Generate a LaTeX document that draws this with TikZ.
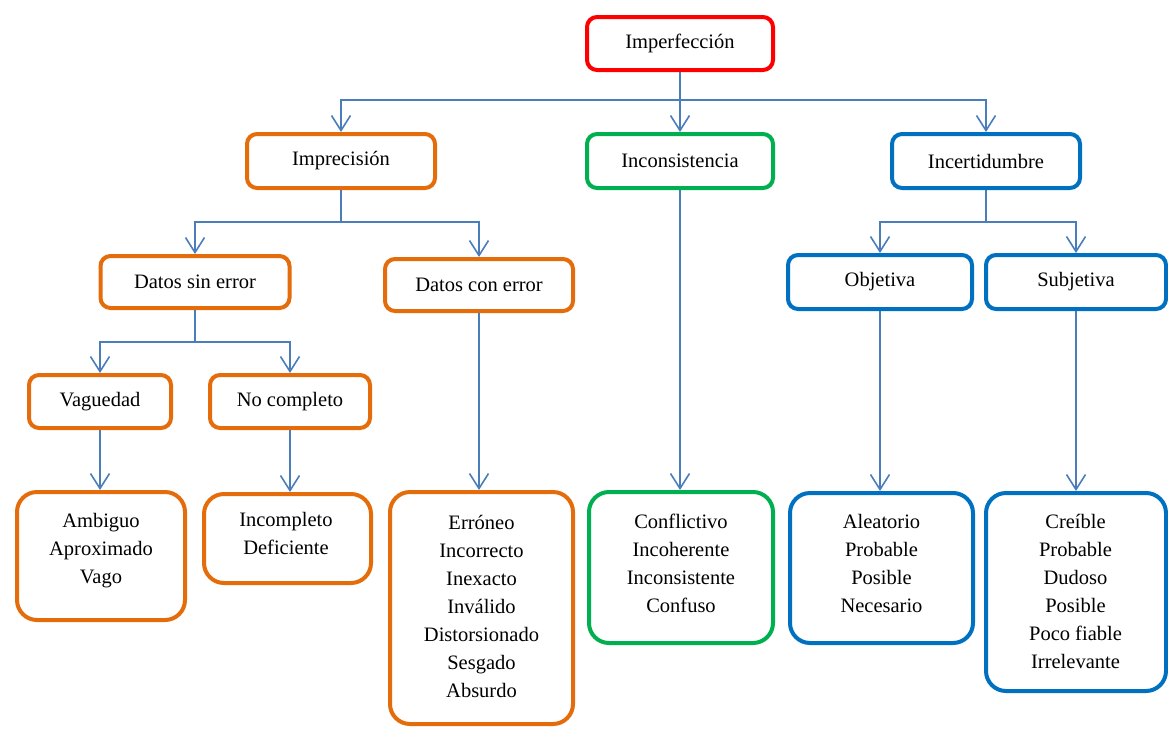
\documentclass[tikz,border=0pt]{standalone}
\usepackage{fontspec}
\setmainfont{Liberation Serif}
\usetikzlibrary{arrows.meta}
\definecolor{cred}{HTML}{FF0000}
\definecolor{corange}{HTML}{E46C0A}
\definecolor{cgreen}{HTML}{00B050}
\definecolor{cblue}{HTML}{0070C0}
\definecolor{clink}{HTML}{4A7EBB}

\begin{document}
\begin{tikzpicture}[x=1pt,y=-1pt,
  box/.style={draw, line width=4pt, rounded corners=10pt, fill=white,
    inner sep=0pt, font=\fontsize{20.5}{28}\selectfont},
  bigbox/.style={box, rounded corners=20pt},
  words/.style={align=center, inner sep=0pt, anchor=north,
    font=\fontsize{20.5}{28}\selectfont},
  link/.style={draw=clink, line width=1.6pt},
  arr/.style={link, -{Straight Barb[length=15pt,width=19pt]}},
]
\useasboundingbox (0,0) rectangle (1168,729);

% level 0
\node[box, draw=cred, minimum width=186, minimum height=53] (imp) at (680,43.5) {Imperfección};

% level 1
\node[box, draw=corange, minimum width=188, minimum height=54] (impr) at (341,161) {Imprecisión};
\node[box, draw=cgreen, minimum width=186, minimum height=54] (inco) at (680,161) {Inconsistencia};
\node[box, draw=cblue, minimum width=188, minimum height=54] (ince) at (986,161) {Incertidumbre};

% level 2
\node[box, draw=corange, minimum width=189, minimum height=52] (dse) at (195,282) {Datos sin error};
\node[box, draw=corange, minimum width=188, minimum height=52] (dce) at (479,285) {Datos con error};
\node[box, draw=cblue, minimum width=184, minimum height=54] (obj) at (880,282) {Objetiva};
\node[box, draw=cblue, minimum width=180, minimum height=54] (sub) at (1076,282) {Subjetiva};

% level 3
\node[box, draw=corange, minimum width=142, minimum height=53] (vag) at (100,401.5) {Vaguedad};
\node[box, draw=corange, minimum width=160, minimum height=53] (noc) at (290,401.5) {No completo};

% leaves
\node[bigbox, draw=corange, minimum width=168, minimum height=128] (amb) at (101,556) {};
\node[bigbox, draw=corange, minimum width=167, minimum height=89] (inc) at (287.5,538.5) {};
\node[bigbox, draw=corange, minimum width=183, minimum height=232] (err) at (481.5,608) {};
\node[bigbox, draw=cgreen, minimum width=184, minimum height=151] (con) at (681,567.5) {};
\node[bigbox, draw=cblue, minimum width=183, minimum height=150] (ale) at (881.5,568) {};
\node[bigbox, draw=cblue, minimum width=180, minimum height=198] (cre) at (1076,592) {};

\node[words] (amb-t) at (101,508) {\strut Ambiguo\\Aproximado\\Vago};
\node[words] (inc-t) at (286,507) {\strut Incompleto\\Deficiente};
\node[words] (err-t) at (481.5,510) {\strut Erróneo\\Incorrecto\\Inexacto\\Inválido\\Distorsionado\\Sesgado\\Absurdo};
\node[words] (con-t) at (681,509) {\strut Conflictivo\\Incoherente\\Inconsistente\\Confuso};
\node[words] (ale-t) at (881.5,509) {\strut Aleatorio\\Probable\\Posible\\Necesario};
\node[words] (cre-t) at (1075.5,509) {\strut Creíble\\Probable\\Dudoso\\Posible\\Poco fiable\\Irrelevante};

% connectors
\coordinate (j1) at (680,100);
\draw[link] (imp.south) -- (j1);
\draw[arr] (j1) -| (impr.north);
\draw[arr] (j1) -- (inco.north);
\draw[arr] (j1) -| (ince.north);

\coordinate (j2) at (341,222);
\draw[link] (impr.south) -- (j2);
\draw[arr] (j2) -| (dse.north);
\draw[arr] (j2) -| (dce.north);

\coordinate (j3) at (986,222);
\draw[link] (ince.south) -- (j3);
\draw[arr] (j3) -| (obj.north);
\draw[arr] (j3) -| (sub.north);

\coordinate (j4) at (195,342);
\draw[link] (dse.south) -- (j4);
\draw[arr] (j4) -| (vag.north);
\draw[arr] (j4) -| (noc.north);

\draw[arr] (vag.south) -- (vag.south |- amb.north);
\draw[arr] (noc.south) -- (noc.south |- inc.north);
\draw[arr] (dce.south) -- (dce.south |- err.north);
\draw[arr] (inco.south) -- (inco.south |- con.north);
\draw[arr] (obj.south) -- (obj.south |- ale.north);
\draw[arr] (sub.south) -- (sub.south |- cre.north);
\end{tikzpicture}
\end{document}
